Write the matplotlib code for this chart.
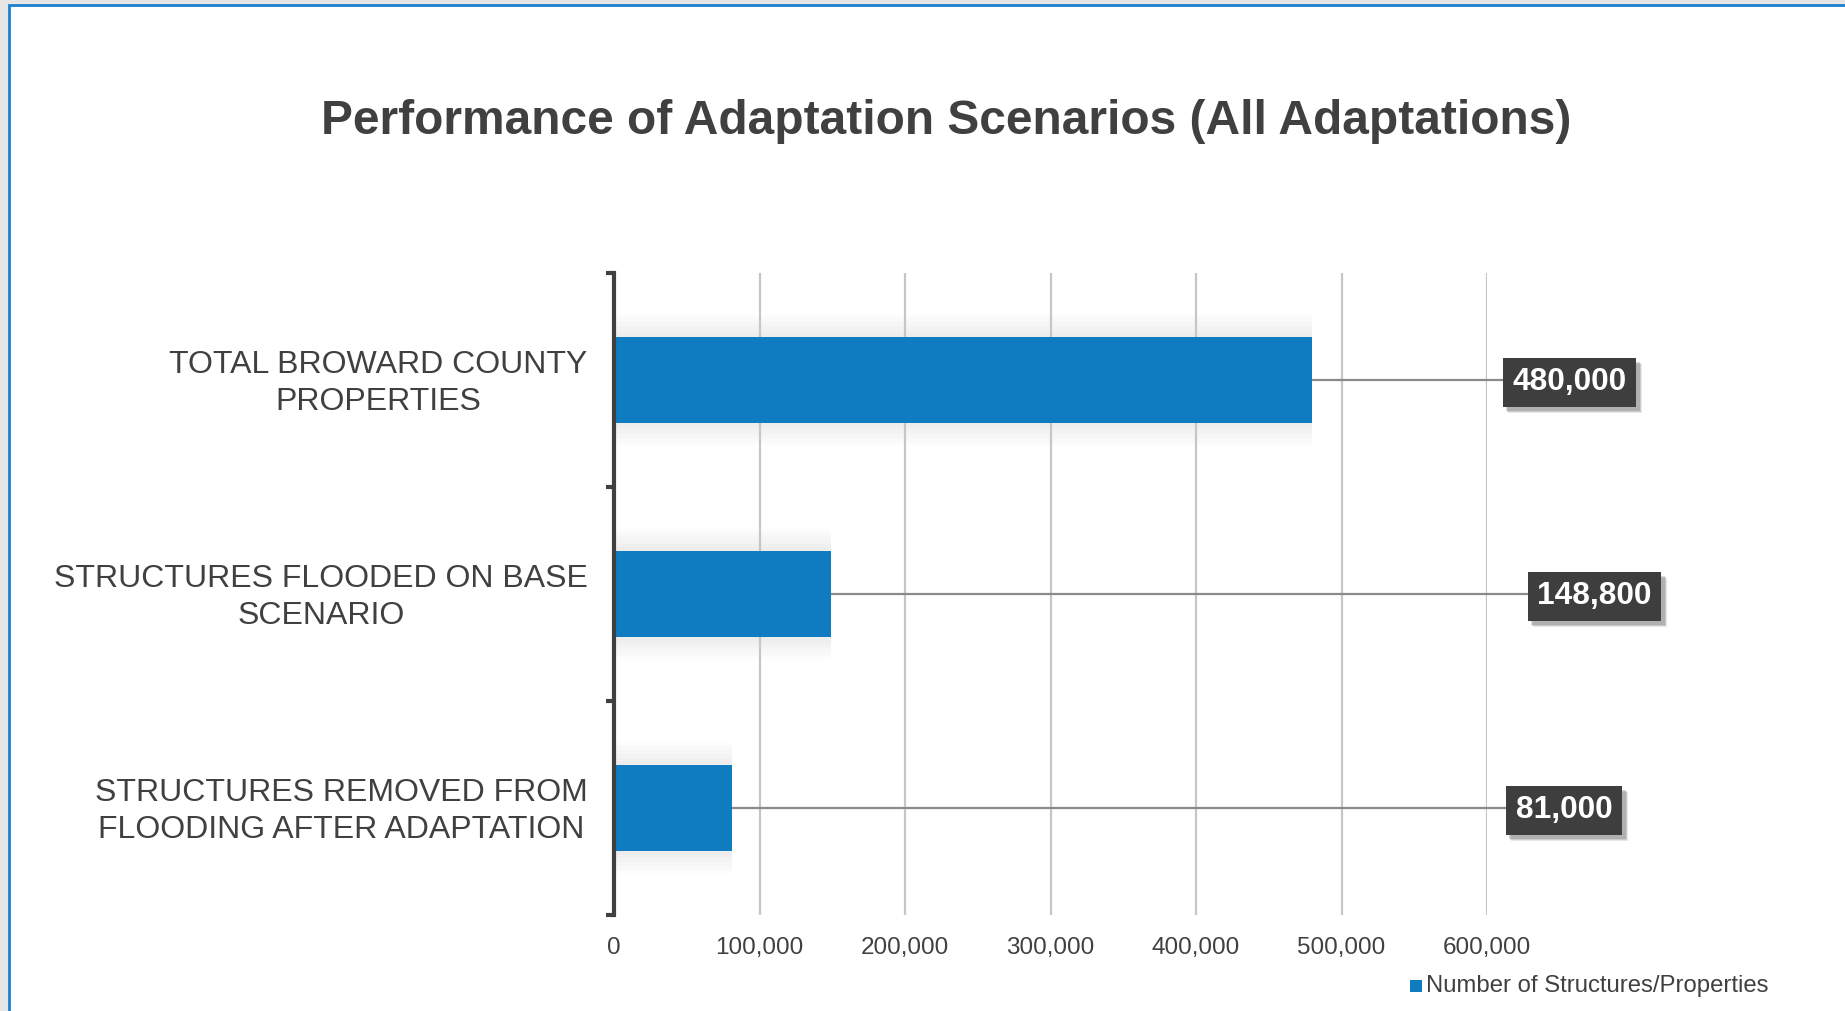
import matplotlib
matplotlib.use("Agg")
import matplotlib.pyplot as plt
from matplotlib.patches import Rectangle
from matplotlib.ticker import FuncFormatter, FixedLocator
import numpy as np

categories = [
    "TOTAL BROWARD COUNTY\nPROPERTIES",
    "STRUCTURES FLOODED ON BASE\nSCENARIO",
    "STRUCTURES REMOVED FROM\nFLOODING AFTER ADAPTATION",
]
values = [480000, 148800, 81000]
value_labels = ["480,000", "148,800", "81,000"]
label_x = [657000, 674000, 653000]   # where the data-label boxes sit
x_ticks = [0, 100000, 200000, 300000, 400000, 500000, 600000]

BAR = "#0f7bc1"
FG = "#404040"
GRID = "#c6c6c6"

plt.rcParams["font.family"] = ["Liberation Sans", "DejaVu Sans"]

W, H = 1845, 1011
fig = plt.figure(figsize=(W / 100, H / 100), dpi=100, facecolor="#e6e6e6")

# white card with blue border, running off the right/bottom edges
fig.patches.append(Rectangle((9 / W, -0.1), 1.2, 1.1 - 5 / H,
                             transform=fig.transFigure, facecolor="white",
                             edgecolor="#1b80cf", lw=2.0, zorder=-5))

ax = fig.add_axes([614 / W, 1 - 915 / H, (1487 - 614) / W, (915 - 273) / H])
ax.set_facecolor("none")
ax.set_zorder(2)

y = np.arange(len(categories))
# soft glow / shadow around each bar
for k in range(6):
    ax.barh(y, values, height=0.40 + 0.035 * (k + 1), color="#000000",
            alpha=0.012, lw=0, zorder=1)
ax.barh(y, values, height=0.40, color=BAR, lw=0, zorder=3)

ax.set_xlim(0, 600000)
ax.set_ylim(2.5, -0.5)

ax.xaxis.set_major_locator(FixedLocator(x_ticks))
ax.xaxis.set_major_formatter(FuncFormatter(lambda v, p: f"{v:,.0f}"))
ax.grid(axis="x", color=GRID, lw=1.6, zorder=0)
ax.tick_params(axis="x", length=0, pad=16, labelsize=17.5, labelcolor=FG)

ax.yaxis.set_major_locator(FixedLocator([-0.5, 0.5, 1.5, 2.5]))
ax.yaxis.set_major_formatter(FuncFormatter(lambda v, p: ""))
# category labels sit a hair above the bar centres
ax.yaxis.set_minor_locator(FixedLocator(list(y - 0.015)))
ax.set_yticklabels(categories, minor=True, fontsize=23, color=FG,
                   linespacing=1.3)
for tl in ax.get_yticklabels(minor=True):
    tl.set_ha("right")
    tl.set_multialignment("center")
ax.tick_params(axis="y", which="major", length=6, width=3, color=FG)
ax.tick_params(axis="y", which="minor", length=0, pad=19)

for sp in ["top", "right", "bottom"]:
    ax.spines[sp].set_visible(False)
ax.spines["left"].set_color(FG)
ax.spines["left"].set_linewidth(3)
ax.spines["left"].set_zorder(5)

# leader lines + data-label boxes
labels = []
for yi, v, lab, lx in zip(y, values, value_labels, label_x):
    ax.plot([v, lx], [yi, yi], color="#8a8a8a", lw=1.6, zorder=2,
            clip_on=False)
    t = ax.text(lx, yi + 0.01, lab, ha="center", va="center", fontsize=22.8,
                fontweight="bold", color="white", zorder=6, clip_on=False,
                bbox=dict(boxstyle="square,pad=0.3", facecolor="#3e3e3e",
                          lw=0))
    labels.append(t)

fig.text(946 / W, 1 - 121 / H,
         "Performance of Adaptation Scenarios (All Adaptations)",
         ha="center", va="center", fontsize=34.5, fontweight="bold", color=FG)

# legend
fig.patches.append(Rectangle((1410 / W, 1 - 992 / H), 12 / W, 12 / H,
                             transform=fig.transFigure, facecolor=BAR,
                             lw=0))
fig.text(1426 / W, 1 - 986 / H, "Number of Structures/Properties",
         ha="left", va="center", fontsize=17.2, color=FG)

# drop shadows behind the label boxes (need the drawn box extents)
fig.canvas.draw()
for t in labels:
    bb = t.get_bbox_patch().get_window_extent()
    for k, a in enumerate([0.25, 0.2, 0.15]):
        fig.patches.append(Rectangle(
            ((bb.x0 + 3 + k) / W, (bb.y0 - 4 - k) / H),
            (bb.width + 1) / W, bb.height / H,
            transform=fig.transFigure, facecolor="#606060", alpha=a,
            lw=0, zorder=1))

fig.savefig("out.png", dpi=100, facecolor=fig.get_facecolor())
